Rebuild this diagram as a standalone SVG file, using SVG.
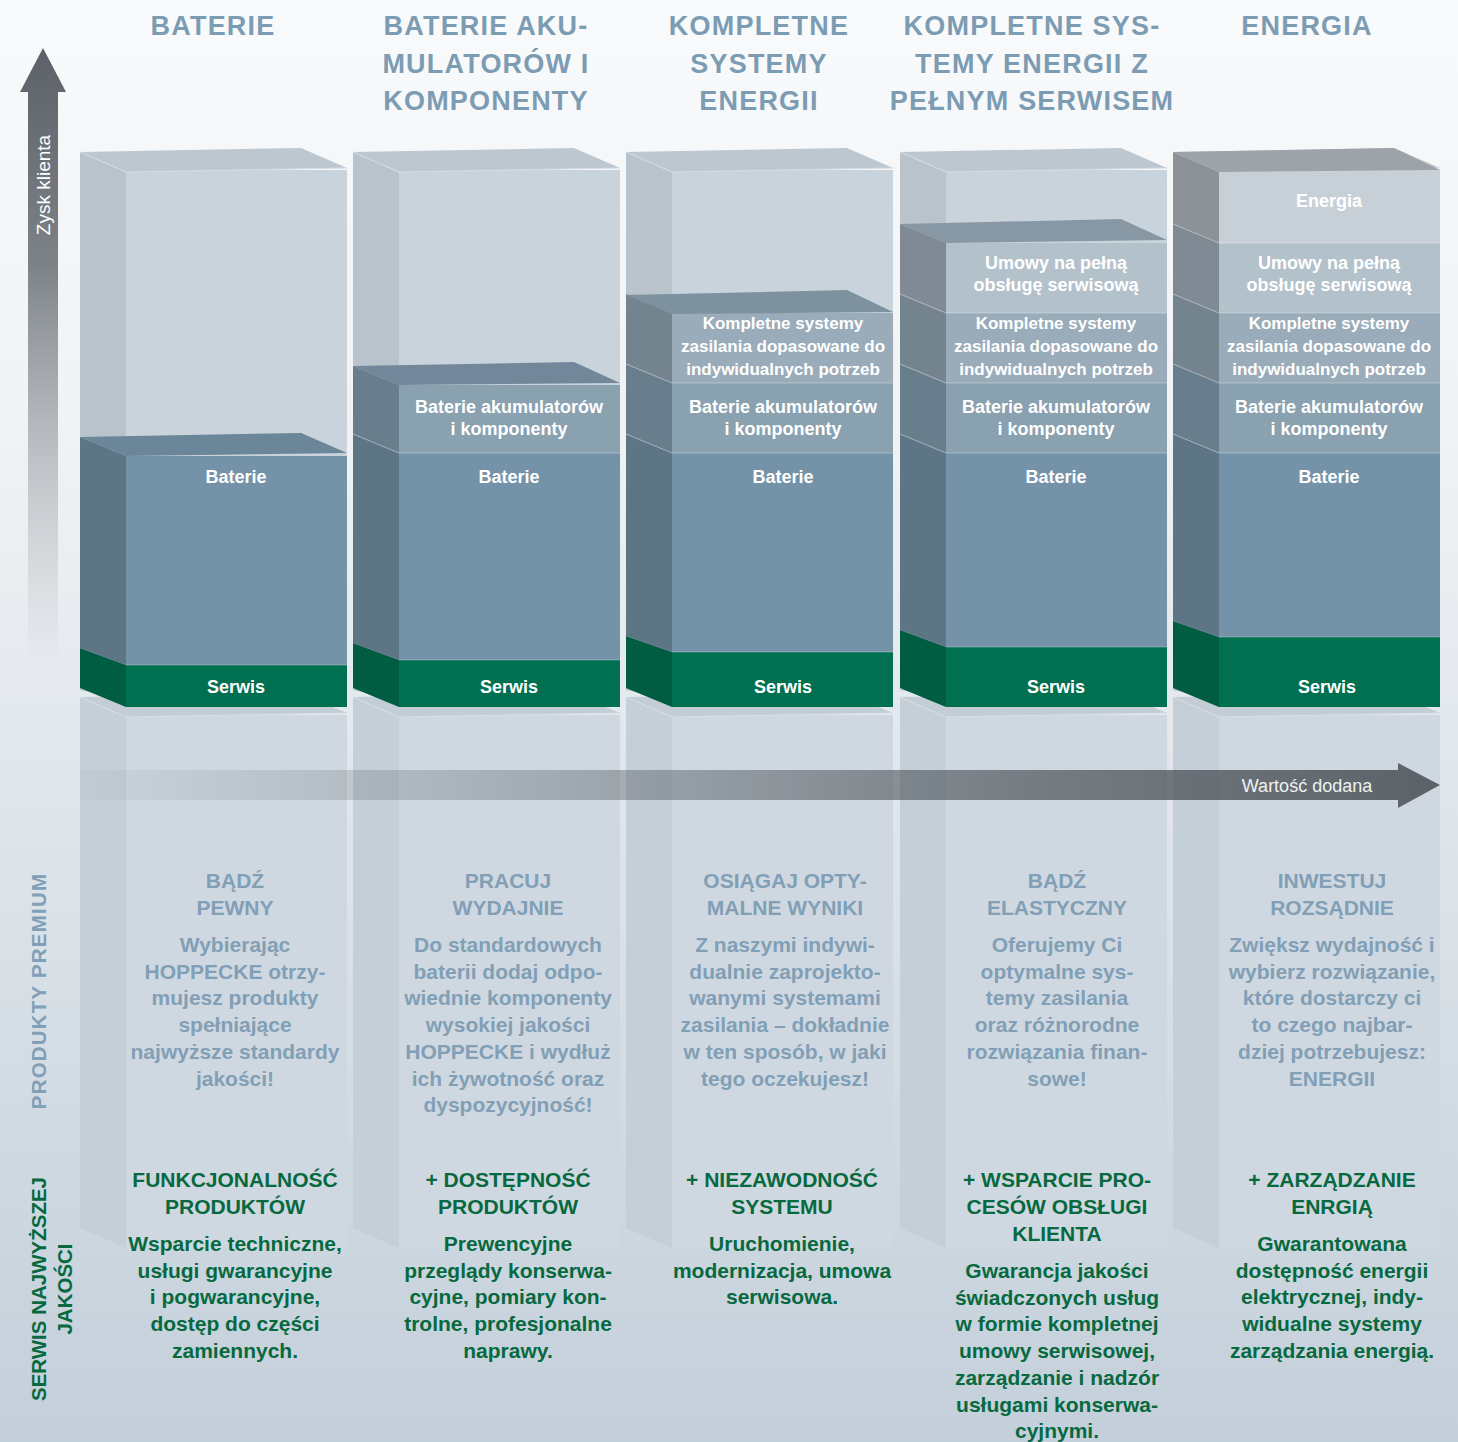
<svg xmlns="http://www.w3.org/2000/svg" width="1458" height="1442" viewBox="0 0 1458 1442">
<defs>
<linearGradient id="bg" x1="0" y1="0" x2="0" y2="1">
<stop offset="0" stop-color="#f9fafb"/>
<stop offset="0.3" stop-color="#f0f2f5"/>
<stop offset="0.55" stop-color="#e0e6eb"/>
<stop offset="1" stop-color="#c3cfda"/>
</linearGradient>
<linearGradient id="harrow" gradientUnits="userSpaceOnUse" x1="80" y1="0" x2="1440" y2="0">
<stop offset="0" stop-color="#4e555b" stop-opacity="0.03"/>
<stop offset="0.35" stop-color="#4e555b" stop-opacity="0.35"/>
<stop offset="0.7" stop-color="#4e555b" stop-opacity="0.7"/>
<stop offset="1" stop-color="#4e555b" stop-opacity="0.9"/>
</linearGradient>
<linearGradient id="varrow" gradientUnits="userSpaceOnUse" x1="0" y1="48" x2="0" y2="665">
<stop offset="0" stop-color="#5b6167"/>
<stop offset="0.35" stop-color="#6f757a" stop-opacity="0.9"/>
<stop offset="1" stop-color="#9aa1a7" stop-opacity="0"/>
</linearGradient>
<g id="ghost">
<polygon points="0,152 46,172 46,700 0,690" fill="#b9c3cc"/>
<rect x="46" y="170" width="221" height="530" fill="#c9d3dc"/>
<polygon points="0,152 221,148 267,168 46,172" fill="#bdc7d0"/>
<polyline points="0,152 46,172 267,168" fill="none" stroke="#d6dde3" stroke-width="1"/>
<polygon points="0,697 46,717 46,1248 0,1228" fill="#c5cfd8"/>
<rect x="46" y="715" width="221" height="533" fill="#cfd8e0"/>
<polygon points="0,697 221,694 267,713 46,717" fill="#c3cdd6"/>
<polyline points="0,697 46,717 267,713" fill="none" stroke="#d8dfe5" stroke-width="1"/>
</g>
<g id="mid">
<polygon class="as" points="0,364 46,383 46,453 0,434"/>
<rect class="af" x="46" y="383" width="221" height="70"/>
<polygon class="ks" points="0,294 46,313 46,383 0,364"/>
<rect class="kf" x="46" y="313" width="221" height="70"/>
<line class="sep" x1="46" y1="383" x2="267" y2="383"/>
<line class="sep" x1="0" y1="364" x2="46" y2="383"/>
</g>
</defs>
<style>
.gs{fill:#005d41}.gf{fill:#007050}
.bs{fill:#5d7585}.bf{fill:#7593a8}.bt{fill:#6a8698}
.as{fill:#697e8c}.af{fill:#8aa1b0}.at{fill:#72889a}
.ks{fill:#74848f}.kf{fill:#9aacb9}.kt{fill:#7e919f}
.us{fill:#7f8a94}.uf{fill:#b3c1cb}.ut{fill:#8797a4}
.es{fill:#8d9298}.ef{fill:#c8d0d7}.et{fill:#9da3a9}
.sep{stroke:#ffffff;stroke-opacity:0.3;stroke-width:1.2}
text{font-family:"Liberation Sans",Arial,sans-serif}
.hdr{font-weight:bold;font-size:27px;letter-spacing:1.2px;fill:#7c9cb4;text-anchor:middle}
.lbl{font-weight:bold;font-size:18px;fill:#ffffff;text-anchor:middle}
.lbs{font-weight:bold;font-size:17px;fill:#ffffff;text-anchor:middle}
.blue{font-weight:bold;font-size:21px;fill:#819fb6;text-anchor:middle}
.green{font-weight:bold;font-size:21px;fill:#07693f;text-anchor:middle}
.ax{font-size:19px;fill:#ffffff;text-anchor:middle}
.wd{font-size:18px;fill:#eef1f3;text-anchor:middle}
</style>
<rect x="0" y="0" width="1458" height="1442" fill="url(#bg)"/>

<g id="headers">
<text class="hdr" x="213" y="35">BATERIE</text>
<text class="hdr" x="486" y="35">BATERIE AKU-<tspan x="486" y="73">MULATORÓW I</tspan><tspan x="486" y="110">KOMPONENTY</tspan></text>
<text class="hdr" x="759" y="35">KOMPLETNE<tspan x="759" y="73">SYSTEMY</tspan><tspan x="759" y="110">ENERGII</tspan></text>
<text class="hdr" x="1032" y="35">KOMPLETNE SYS-<tspan x="1032" y="73">TEMY ENERGII Z</tspan><tspan x="1032" y="110">PEŁNYM SERWISEM</tspan></text>
<text class="hdr" x="1307" y="35">ENERGIA</text>
</g>

<g id="col1" transform="translate(80,0)">
<use href="#ghost"/>
<g id="c1-serwis">
<polygon class="gs" points="0,648 46,665 46,707 0,688"/>
<rect class="gf" x="46" y="665" width="221" height="42"/>
<text class="lbl" x="156" y="693">Serwis</text>
</g>
<g id="c1-baterie">
<polygon class="bs" points="0,437 46,456 46,665 0,648"/>
<rect class="bf" x="46" y="456" width="221" height="209"/>
<polygon class="bt" points="0,437 221,433 267,453 46,456"/>
<line class="sep" x1="46" y1="665" x2="267" y2="665"/>
<text class="lbl" x="156" y="483">Baterie</text>
</g>
</g>

<g id="col2" transform="translate(353,0)">
<use href="#ghost"/>
<g id="c2-serwis">
<polygon class="gs" points="0,643 46,660 46,707 0,688"/>
<rect class="gf" x="46" y="660" width="221" height="47"/>
<text class="lbl" x="156" y="693">Serwis</text>
</g>
<g id="c2-baterie">
<polygon class="bs" points="0,434 46,453 46,660 0,643"/>
<rect class="bf" x="46" y="453" width="221" height="207"/>
<line class="sep" x1="46" y1="660" x2="267" y2="660"/>
<text class="lbl" x="156" y="483">Baterie</text>
</g>
<g id="c2-akum">
<polygon class="as" points="0,366 46,385 46,453 0,434"/>
<rect class="af" x="46" y="385" width="221" height="68"/>
<polygon class="at" points="0,366 221,362 267,383 46,385"/>
<line class="sep" x1="46" y1="453" x2="267" y2="453"/>
<line class="sep" x1="0" y1="434" x2="46" y2="453"/>
<text class="lbl" x="156" y="413">Baterie akumulatorów<tspan x="156" y="435">i komponenty</tspan></text>
</g>
</g>

<g id="col3" transform="translate(626,0)">
<use href="#ghost"/>
<g id="c3-serwis">
<polygon class="gs" points="0,636 46,652 46,707 0,688"/>
<rect class="gf" x="46" y="652" width="221" height="55"/>
<text class="lbl" x="157" y="693">Serwis</text>
</g>
<g id="c3-baterie">
<polygon class="bs" points="0,434 46,453 46,652 0,636"/>
<rect class="bf" x="46" y="453" width="221" height="199"/>
<line class="sep" x1="46" y1="652" x2="267" y2="652"/>
<text class="lbl" x="157" y="483">Baterie</text>
</g>
<g id="c3-akum">
<use href="#mid"/>
<line class="sep" x1="46" y1="453" x2="267" y2="453"/>
<line class="sep" x1="0" y1="434" x2="46" y2="453"/>
<text class="lbl" x="157" y="413">Baterie akumulatorów<tspan x="157" y="435">i komponenty</tspan></text>
</g>
<g id="c3-kompletne">
<polygon class="kt" points="0,295 221,290 267,312 46,314"/>
<text class="lbs" x="157" y="329">Kompletne systemy<tspan x="157" y="352">zasilania dopasowane do</tspan><tspan x="157" y="375">indywidualnych potrzeb</tspan></text>
</g>
</g>

<g id="col4" transform="translate(900,0)">
<use href="#ghost"/>
<g id="c4-serwis">
<polygon class="gs" points="0,630 46,647 46,707 0,688"/>
<rect class="gf" x="46" y="647" width="221" height="60"/>
<text class="lbl" x="156" y="693">Serwis</text>
</g>
<g id="c4-baterie">
<polygon class="bs" points="0,434 46,453 46,647 0,630"/>
<rect class="bf" x="46" y="453" width="221" height="194"/>
<line class="sep" x1="46" y1="647" x2="267" y2="647"/>
<text class="lbl" x="156" y="483">Baterie</text>
</g>
<g id="c4-akum">
<use href="#mid"/>
<line class="sep" x1="46" y1="453" x2="267" y2="453"/>
<line class="sep" x1="0" y1="434" x2="46" y2="453"/>
<text class="lbl" x="156" y="413">Baterie akumulatorów<tspan x="156" y="435">i komponenty</tspan></text>
</g>
<g id="c4-kompletne">
<text class="lbs" x="156" y="329">Kompletne systemy<tspan x="156" y="352">zasilania dopasowane do</tspan><tspan x="156" y="375">indywidualnych potrzeb</tspan></text>
</g>
<g id="c4-umowy">
<polygon class="us" points="0,224 46,243 46,313 0,294"/>
<rect class="uf" x="46" y="243" width="221" height="70"/>
<polygon class="ut" points="0,224 221,219 267,240 46,243"/>
<line class="sep" x1="46" y1="313" x2="267" y2="313"/>
<line class="sep" x1="0" y1="294" x2="46" y2="313"/>
<text class="lbl" x="156" y="269">Umowy na pełną<tspan x="156" y="291">obsługę serwisową</tspan></text>
</g>
</g>

<g id="col5" transform="translate(1173,0)">
<use href="#ghost"/>
<g id="c5-serwis">
<polygon class="gs" points="0,621 46,637 46,707 0,688"/>
<rect class="gf" x="46" y="637" width="221" height="70"/>
<text class="lbl" x="154" y="693">Serwis</text>
</g>
<g id="c5-baterie">
<polygon class="bs" points="0,434 46,453 46,637 0,621"/>
<rect class="bf" x="46" y="453" width="221" height="184"/>
<line class="sep" x1="46" y1="637" x2="267" y2="637"/>
<text class="lbl" x="156" y="483">Baterie</text>
</g>
<g id="c5-akum">
<use href="#mid"/>
<line class="sep" x1="46" y1="453" x2="267" y2="453"/>
<line class="sep" x1="0" y1="434" x2="46" y2="453"/>
<text class="lbl" x="156" y="413">Baterie akumulatorów<tspan x="156" y="435">i komponenty</tspan></text>
</g>
<g id="c5-kompletne">
<text class="lbs" x="156" y="329">Kompletne systemy<tspan x="156" y="352">zasilania dopasowane do</tspan><tspan x="156" y="375">indywidualnych potrzeb</tspan></text>
</g>
<g id="c5-umowy">
<polygon class="us" points="0,224 46,243 46,313 0,294"/>
<rect class="uf" x="46" y="243" width="221" height="70"/>
<line class="sep" x1="46" y1="313" x2="267" y2="313"/>
<line class="sep" x1="0" y1="294" x2="46" y2="313"/>
<text class="lbl" x="156" y="269">Umowy na pełną<tspan x="156" y="291">obsługę serwisową</tspan></text>
</g>
<g id="c5-energia">
<polygon class="es" points="0,152 46,172 46,243 0,224"/>
<rect class="ef" x="46" y="172" width="221" height="71"/>
<polygon class="et" points="0,152 221,148 267,170 46,172"/>
<line class="sep" x1="46" y1="243" x2="267" y2="243"/>
<line class="sep" x1="0" y1="224" x2="46" y2="243"/>
<text class="lbl" x="156" y="207">Energia</text>
</g>
</g>

<g id="connectors">
<g id="value-arrow">
<polygon points="80,770 1398,770 1398,763 1440,785 1398,808 1398,800 80,800" fill="url(#harrow)"/>
<text class="wd" x="1307" y="792">Wartość dodana</text>
</g>
<g id="gain-arrow">
<polygon points="28,665 28,92 20,92 43,48 66,92 58,92 58,665" fill="url(#varrow)"/>
<text class="ax" transform="translate(50,185) rotate(-90)">Zysk klienta</text>
</g>
</g>

<g id="side-labels">
<text transform="translate(46,991) rotate(-90)" style="font-weight:bold;font-size:20.5px;letter-spacing:1.2px;fill:#819fb6;text-anchor:middle">PRODUKTY PREMIUM</text>
<text transform="translate(46,1289) rotate(-90)" style="font-weight:bold;font-size:20.5px;fill:#07693f;text-anchor:middle">SERWIS NAJWYŻSZEJ<tspan x="0" y="26">JAKOŚCI</tspan></text>
</g>

<g id="premium-texts">
<g id="p1" transform="translate(235,0)">
<text class="blue" y="888"><tspan x="0">BĄDŹ</tspan><tspan x="0" y="915">PEWNY</tspan></text>
<text class="blue" y="952"><tspan x="0">Wybierając</tspan><tspan x="0" dy="26.7">HOPPECKE otrzy-</tspan><tspan x="0" dy="26.7">mujesz produkty</tspan><tspan x="0" dy="26.7">spełniające</tspan><tspan x="0" dy="26.7">najwyższe standardy</tspan><tspan x="0" dy="26.7">jakości!</tspan></text>
</g>
<g id="p2" transform="translate(508,0)">
<text class="blue" y="888"><tspan x="0">PRACUJ</tspan><tspan x="0" y="915">WYDAJNIE</tspan></text>
<text class="blue" y="952"><tspan x="0">Do standardowych</tspan><tspan x="0" dy="26.7">baterii dodaj odpo-</tspan><tspan x="0" dy="26.7">wiednie komponenty</tspan><tspan x="0" dy="26.7">wysokiej jakości</tspan><tspan x="0" dy="26.7">HOPPECKE i wydłuż</tspan><tspan x="0" dy="26.7">ich żywotność oraz</tspan><tspan x="0" dy="26.7">dyspozycyjność!</tspan></text>
</g>
<g id="p3" transform="translate(785,0)">
<text class="blue" y="888"><tspan x="0">OSIĄGAJ OPTY-</tspan><tspan x="0" y="915">MALNE WYNIKI</tspan></text>
<text class="blue" y="952"><tspan x="0">Z naszymi indywi-</tspan><tspan x="0" dy="26.7">dualnie zaprojekto-</tspan><tspan x="0" dy="26.7">wanymi systemami</tspan><tspan x="0" dy="26.7">zasilania – dokładnie</tspan><tspan x="0" dy="26.7">w ten sposób, w jaki</tspan><tspan x="0" dy="26.7">tego oczekujesz!</tspan></text>
</g>
<g id="p4" transform="translate(1057,0)">
<text class="blue" y="888"><tspan x="0">BĄDŹ</tspan><tspan x="0" y="915">ELASTYCZNY</tspan></text>
<text class="blue" y="952"><tspan x="0">Oferujemy Ci</tspan><tspan x="0" dy="26.7">optymalne sys-</tspan><tspan x="0" dy="26.7">temy zasilania</tspan><tspan x="0" dy="26.7">oraz różnorodne</tspan><tspan x="0" dy="26.7">rozwiązania finan-</tspan><tspan x="0" dy="26.7">sowe!</tspan></text>
</g>
<g id="p5" transform="translate(1332,0)">
<text class="blue" y="888"><tspan x="0">INWESTUJ</tspan><tspan x="0" y="915">ROZSĄDNIE</tspan></text>
<text class="blue" y="952"><tspan x="0">Zwiększ wydajność i</tspan><tspan x="0" dy="26.7">wybierz rozwiązanie,</tspan><tspan x="0" dy="26.7">które dostarczy ci</tspan><tspan x="0" dy="26.7">to czego najbar-</tspan><tspan x="0" dy="26.7">dziej potrzebujesz:</tspan><tspan x="0" dy="26.7">ENERGII</tspan></text>
</g>
</g>

<g id="service-texts">
<g id="s1" transform="translate(235,0)">
<text class="green" y="1187"><tspan x="0">FUNKCJONALNOŚĆ</tspan><tspan x="0" y="1214">PRODUKTÓW</tspan></text>
<text class="green" y="1251"><tspan x="0">Wsparcie techniczne,</tspan><tspan x="0" dy="26.7">usługi gwarancyjne</tspan><tspan x="0" dy="26.7">i pogwarancyjne,</tspan><tspan x="0" dy="26.7">dostęp do części</tspan><tspan x="0" dy="26.7">zamiennych.</tspan></text>
</g>
<g id="s2" transform="translate(508,0)">
<text class="green" y="1187"><tspan x="0">+ DOSTĘPNOŚĆ</tspan><tspan x="0" y="1214">PRODUKTÓW</tspan></text>
<text class="green" y="1251"><tspan x="0">Prewencyjne</tspan><tspan x="0" dy="26.7">przeglądy konserwa-</tspan><tspan x="0" dy="26.7">cyjne, pomiary kon-</tspan><tspan x="0" dy="26.7">trolne, profesjonalne</tspan><tspan x="0" dy="26.7">naprawy.</tspan></text>
</g>
<g id="s3" transform="translate(782,0)">
<text class="green" y="1187"><tspan x="0">+ NIEZAWODNOŚĆ</tspan><tspan x="0" y="1214">SYSTEMU</tspan></text>
<text class="green" y="1251"><tspan x="0">Uruchomienie,</tspan><tspan x="0" dy="26.7">modernizacja, umowa</tspan><tspan x="0" dy="26.7">serwisowa.</tspan></text>
</g>
<g id="s4" transform="translate(1057,0)">
<text class="green" y="1187"><tspan x="0">+ WSPARCIE PRO-</tspan><tspan x="0" y="1214">CESÓW OBSŁUGI</tspan><tspan x="0" y="1241">KLIENTA</tspan></text>
<text class="green" y="1278"><tspan x="0">Gwarancja jakości</tspan><tspan x="0" dy="26.7">świadczonych usług</tspan><tspan x="0" dy="26.7">w formie kompletnej</tspan><tspan x="0" dy="26.7">umowy serwisowej,</tspan><tspan x="0" dy="26.7">zarządzanie i nadzór</tspan><tspan x="0" dy="26.7">usługami konserwa-</tspan><tspan x="0" dy="26.7">cyjnymi.</tspan></text>
</g>
<g id="s5" transform="translate(1332,0)">
<text class="green" y="1187"><tspan x="0">+ ZARZĄDZANIE</tspan><tspan x="0" y="1214">ENRGIĄ</tspan></text>
<text class="green" y="1251"><tspan x="0">Gwarantowana</tspan><tspan x="0" dy="26.7">dostępność energii</tspan><tspan x="0" dy="26.7">elektrycznej, indy-</tspan><tspan x="0" dy="26.7">widualne systemy</tspan><tspan x="0" dy="26.7">zarządzania energią.</tspan></text>
</g>
</g>
</svg>
